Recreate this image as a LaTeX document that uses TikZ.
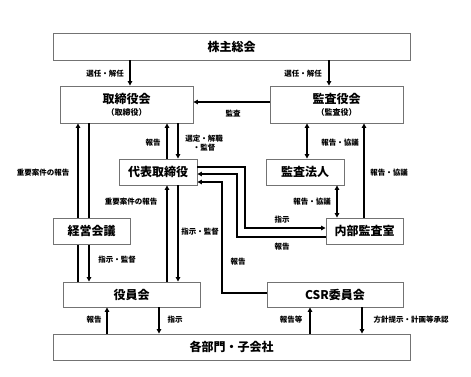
\documentclass[tikz,border=0pt]{standalone}
\usepackage{fontspec}
\setmainfont{Noto Sans CJK JP}
\usetikzlibrary{arrows.meta}
\newcommand\subfont{\fontsize{8}{9}\selectfont\bfseries}
\begin{document}
\begin{tikzpicture}[
  x=1pt, y=-1pt, line width=1.4pt,
    box/.style={draw=black!55, line width=0.9pt, fill=white, inner sep=0pt,
                align=center, font=\fontsize{12}{13}\selectfont\bfseries},
    arr/.style={-{Triangle[length=4.5pt,width=4.5pt]}},
    darr/.style={{Triangle[length=4.5pt,width=4.5pt]}-{Triangle[length=4.5pt,width=4.5pt]}},
    lbl/.style={font=\fontsize{7.5}{9}\selectfont\bfseries, inner sep=1pt, align=center},
]
\useasboundingbox (0,0) rectangle (471,376);
\node[box, minimum width=357pt, minimum height=27pt] (kabu) at (231.5,46.5) {株主総会};
\node[box, minimum width=133pt, minimum height=37pt] (tori) at (126.5,104.5)
  {取締役会\\[-1pt]{\subfont（取締役）}};
\node[box, minimum width=133pt, minimum height=37pt] (kansa) at (336.5,104.5)
  {監査役会\\[-1pt]{\subfont（監査役）}};
\node[box, minimum width=78pt, minimum height=26pt] (daihyo) at (158,172) {代表取締役};
\node[box, minimum width=78pt, minimum height=26pt] (hojin) at (305,172) {監査法人};
\node[box, minimum width=77pt, minimum height=26pt] (naibu) at (364.5,231) {内部監査室};
\node[box, minimum width=137pt, minimum height=25pt] (yakuin) at (131.5,294.5) {役員会};
\node[box, minimum width=136pt, minimum height=25pt] (csr) at (335,294.5) {CSR委員会};
\node[box, minimum width=357pt, minimum height=26pt] (kaku) at (231.5,347) {各部門・子会社};
% 株主総会から
\draw[arr] (130,0 |- kabu.south) -- (130,0 |- tori.north);
\node[lbl] (l1) at (105,74) {選任・解任};
\draw[arr] (329,0 |- kabu.south) -- (329,0 |- kansa.north);
\node[lbl] (l2) at (303,74) {選任・解任};
\draw[arr] (kansa.west |- 0,102) -- (tori.east |- 0,102);
\node[lbl] (l3) at (233,114) {監査};
% 取締役会と代表取締役
\draw[arr] (167,0 |- daihyo.north) -- (167,0 |- tori.south);
\node[lbl] (l4) at (153,143) {報告};
\draw[arr] (178,0 |- tori.south) -- (178,0 |- daihyo.north);
\node[lbl] (l5) at (204,143) {選定・解職\\・監督};
% 取締役会と役員会
\draw[arr] (78,0 |- yakuin.north) -- (78,0 |- tori.south);
\node[lbl] (l6) at (43,173) {重要案件の報告};
\draw[arr] (89,0 |- tori.south) -- (89,0 |- yakuin.north);
\node[lbl] (l7) at (131,202) {重要案件の報告};
\node[lbl] (l8) at (117,260) {指示・監督};
\node[box, minimum width=77pt, minimum height=26pt] (keiei) at (91.5,231) {経営会議};
% 代表取締役と役員会
\draw[arr] (167,0 |- yakuin.north) -- (167,0 |- daihyo.south);
\draw[arr] (178,0 |- daihyo.south) -- (178,0 |- yakuin.north);
\node[lbl] (l9) at (200,232) {指示・監督};
% 監査役会から
\draw[darr] (307,0 |- kansa.south) -- (307,0 |- hojin.north);
\node[lbl] (l10) at (340,143) {報告・協議};
\draw[arr] (364,0 |- naibu.north) -- (364,0 |- kansa.south);
\node[lbl] (l11) at (389,173) {報告・協議};
\draw[darr] (337,0 |- hojin.south) -- (337,0 |- naibu.north);
\node[lbl] (l12) at (312,202) {報告・協議};
% 代表取締役と内部監査室
\draw[arr] (daihyo.east |- 0,167) -- (245,167) -- (245,228) -- (naibu.west |- 0,228);
\node[lbl] (l13) at (282,220) {指示};
\draw[arr] (naibu.west |- 0,237) -- (237,237) -- (237,174) -- (daihyo.east |- 0,174);
\node[lbl] (l14) at (282,247) {報告};
\draw[arr] (csr.west |- 0,293) -- (222,293) -- (222,182) -- (daihyo.east |- 0,182);
\node[lbl] (l15) at (238,262) {報告};
% 各部門・子会社
\draw[arr] (107,0 |- kaku.north) -- (107,0 |- yakuin.south);
\node[lbl] (l16) at (94,320) {報告};
\draw[arr] (159,0 |- yakuin.south) -- (159,0 |- kaku.north);
\node[lbl] (l17) at (175,320) {指示};
\draw[arr] (310,0 |- kaku.north) -- (310,0 |- csr.south);
\node[lbl] (l18) at (291,320) {報告等};
\draw[arr] (362,0 |- csr.south) -- (362,0 |- kaku.north);
\node[lbl] (l19) at (411,320) {方針提示・計画等承認};
\end{tikzpicture}
\end{document}
